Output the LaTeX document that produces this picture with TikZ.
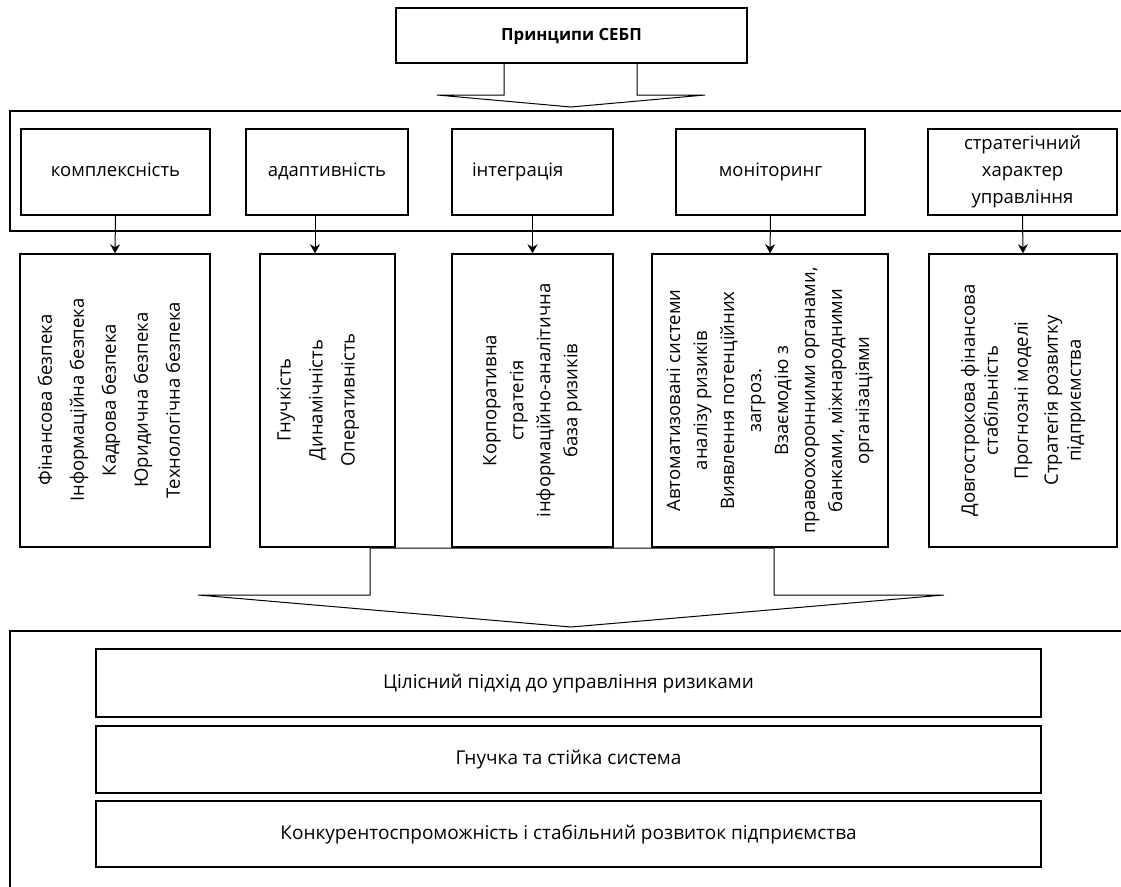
\documentclass[tikz,border=0pt]{standalone}
\usepackage{fontspec}
\setmainfont{Open Sans}
\usetikzlibrary{arrows.meta}

\tikzset{
  box/.style={draw,line width=1.5pt,inner sep=0pt,align=center,
    font=\fontsize{18.5}{27}\selectfont},
  onel/.style={text height=13,text depth=4},
  vtext/.style={rotate=90,inner sep=0pt,align=center,
    font=\fontsize{18.5}{27}\selectfont},
  resbox/.style={draw,line width=1.5pt,inner sep=0pt,minimum width=945,
    text height=14,text depth=4,font=\fontsize{19}{22}\selectfont},
  frame/.style={line width=1.4pt},
  bigarrow/.style={line width=1pt,line join=miter},
  arr/.style={line width=1pt,-{Stealth[length=9pt,width=10pt]}}
}

\begin{document}
\begin{tikzpicture}[x=1pt,y=-1pt]
  \clip (0,0) rectangle (1121,886);

  % title and first arrow
  \node[box,onel,minimum width=351,minimum height=55,
    font=\fontsize{16.8}{20}\selectfont\bfseries] (prn) at (571.5,35.5) {Принципи СЕБП};
  \draw[bigarrow] (504,63) -- (504,95) -- (437,95) -- (571,107)
    -- (705,95) -- (637,95) -- (637,63);

  % principles
  \draw[frame] (10,111) rectangle (1140,231);
  \node[box,onel,minimum width=189,minimum height=86] (k1) at (115.5,172) {комплексність};
  \node[box,onel,minimum width=162,minimum height=86] (k2) at (327,172) {адаптивність};
  \node[box,onel,minimum width=161,minimum height=86,text width=121,align=left] (k3)
    at (532.5,172) {інтеграція};
  \node[box,onel,minimum width=189,minimum height=86] (k4) at (770.5,172) {моніторинг};
  \node[box,minimum width=189,minimum height=86] (k5) at (1022.5,172)
    {стратегічний\\характер\\управління};

  % contents
  \node[box,minimum width=190,minimum height=293] (d1) at (115,400.5) {};
  \node[box,minimum width=135,minimum height=293] (d2) at (327.5,400.5) {};
  \node[box,minimum width=161,minimum height=293] (d3) at (532.5,400.5) {};
  \node[box,minimum width=236,minimum height=293] (d4) at (770,400.5) {};
  \node[box,minimum width=188,minimum height=293] (d5) at (1023,400.5) {};

  \node[vtext] (t1) at (109,400) {Фінансова безпека\\[5pt]Інформаційна безпека\\[5pt]Кадрова безпека\\[5pt]Юридична безпека\\[5pt]Технологічна безпека};
  \node[vtext] (t2) at (318,400) {Гнучкість\\[5pt]Динамічність\\[5pt]Оперативність};
  \node[vtext] (t3) at (d3) {Корпоративна\\стратегія\\інформаційно-аналітична\\база ризиків};
  \node[vtext] (t4) at (d4) {Автоматизовані системи\\аналізу ризиків\\Виявлення потенційних\\загроз.\\Взаємодію з\\правоохоронними органами,\\банками, міжнародними\\організаціями};
  \node[vtext] (t5) at (d5) {Довгострокова фінансова\\[-4pt]стабільність\\[3pt]Прогнозні моделі\\[3pt]Стратегія розвитку\\[-4pt]підприємства};

  \coordinate (a2) at ([xshift=-12pt]k2.south);
  \draw[arr] (k1.south) -- (d1.north);
  \draw[arr] (a2) -- (a2 |- d2.north);
  \draw[arr] (k3.south) -- (d3.north);
  \draw[arr] (k4.south) -- (d4.north);
  \draw[arr] (k5.south) -- (d5.north);

  % second arrow
  \draw[bigarrow] (370,548) -- (370,595) -- (198,595) -- (571,627)
    -- (944,595) -- (774,595) -- (774,548) -- cycle;

  % results
  \draw[frame] (10,631) rectangle (1140,900);
  \node[resbox,minimum height=68] (r1) at (568.5,683) {Цілісний підхід до управління ризиками};
  \node[resbox,minimum height=67] (r2) at (568.5,759.5) {Гнучка та стійка система};
  \node[resbox,minimum height=66] (r3) at (568.5,834) {Конкурентоспроможність і стабільний розвиток підприємства};
\end{tikzpicture}
\end{document}
